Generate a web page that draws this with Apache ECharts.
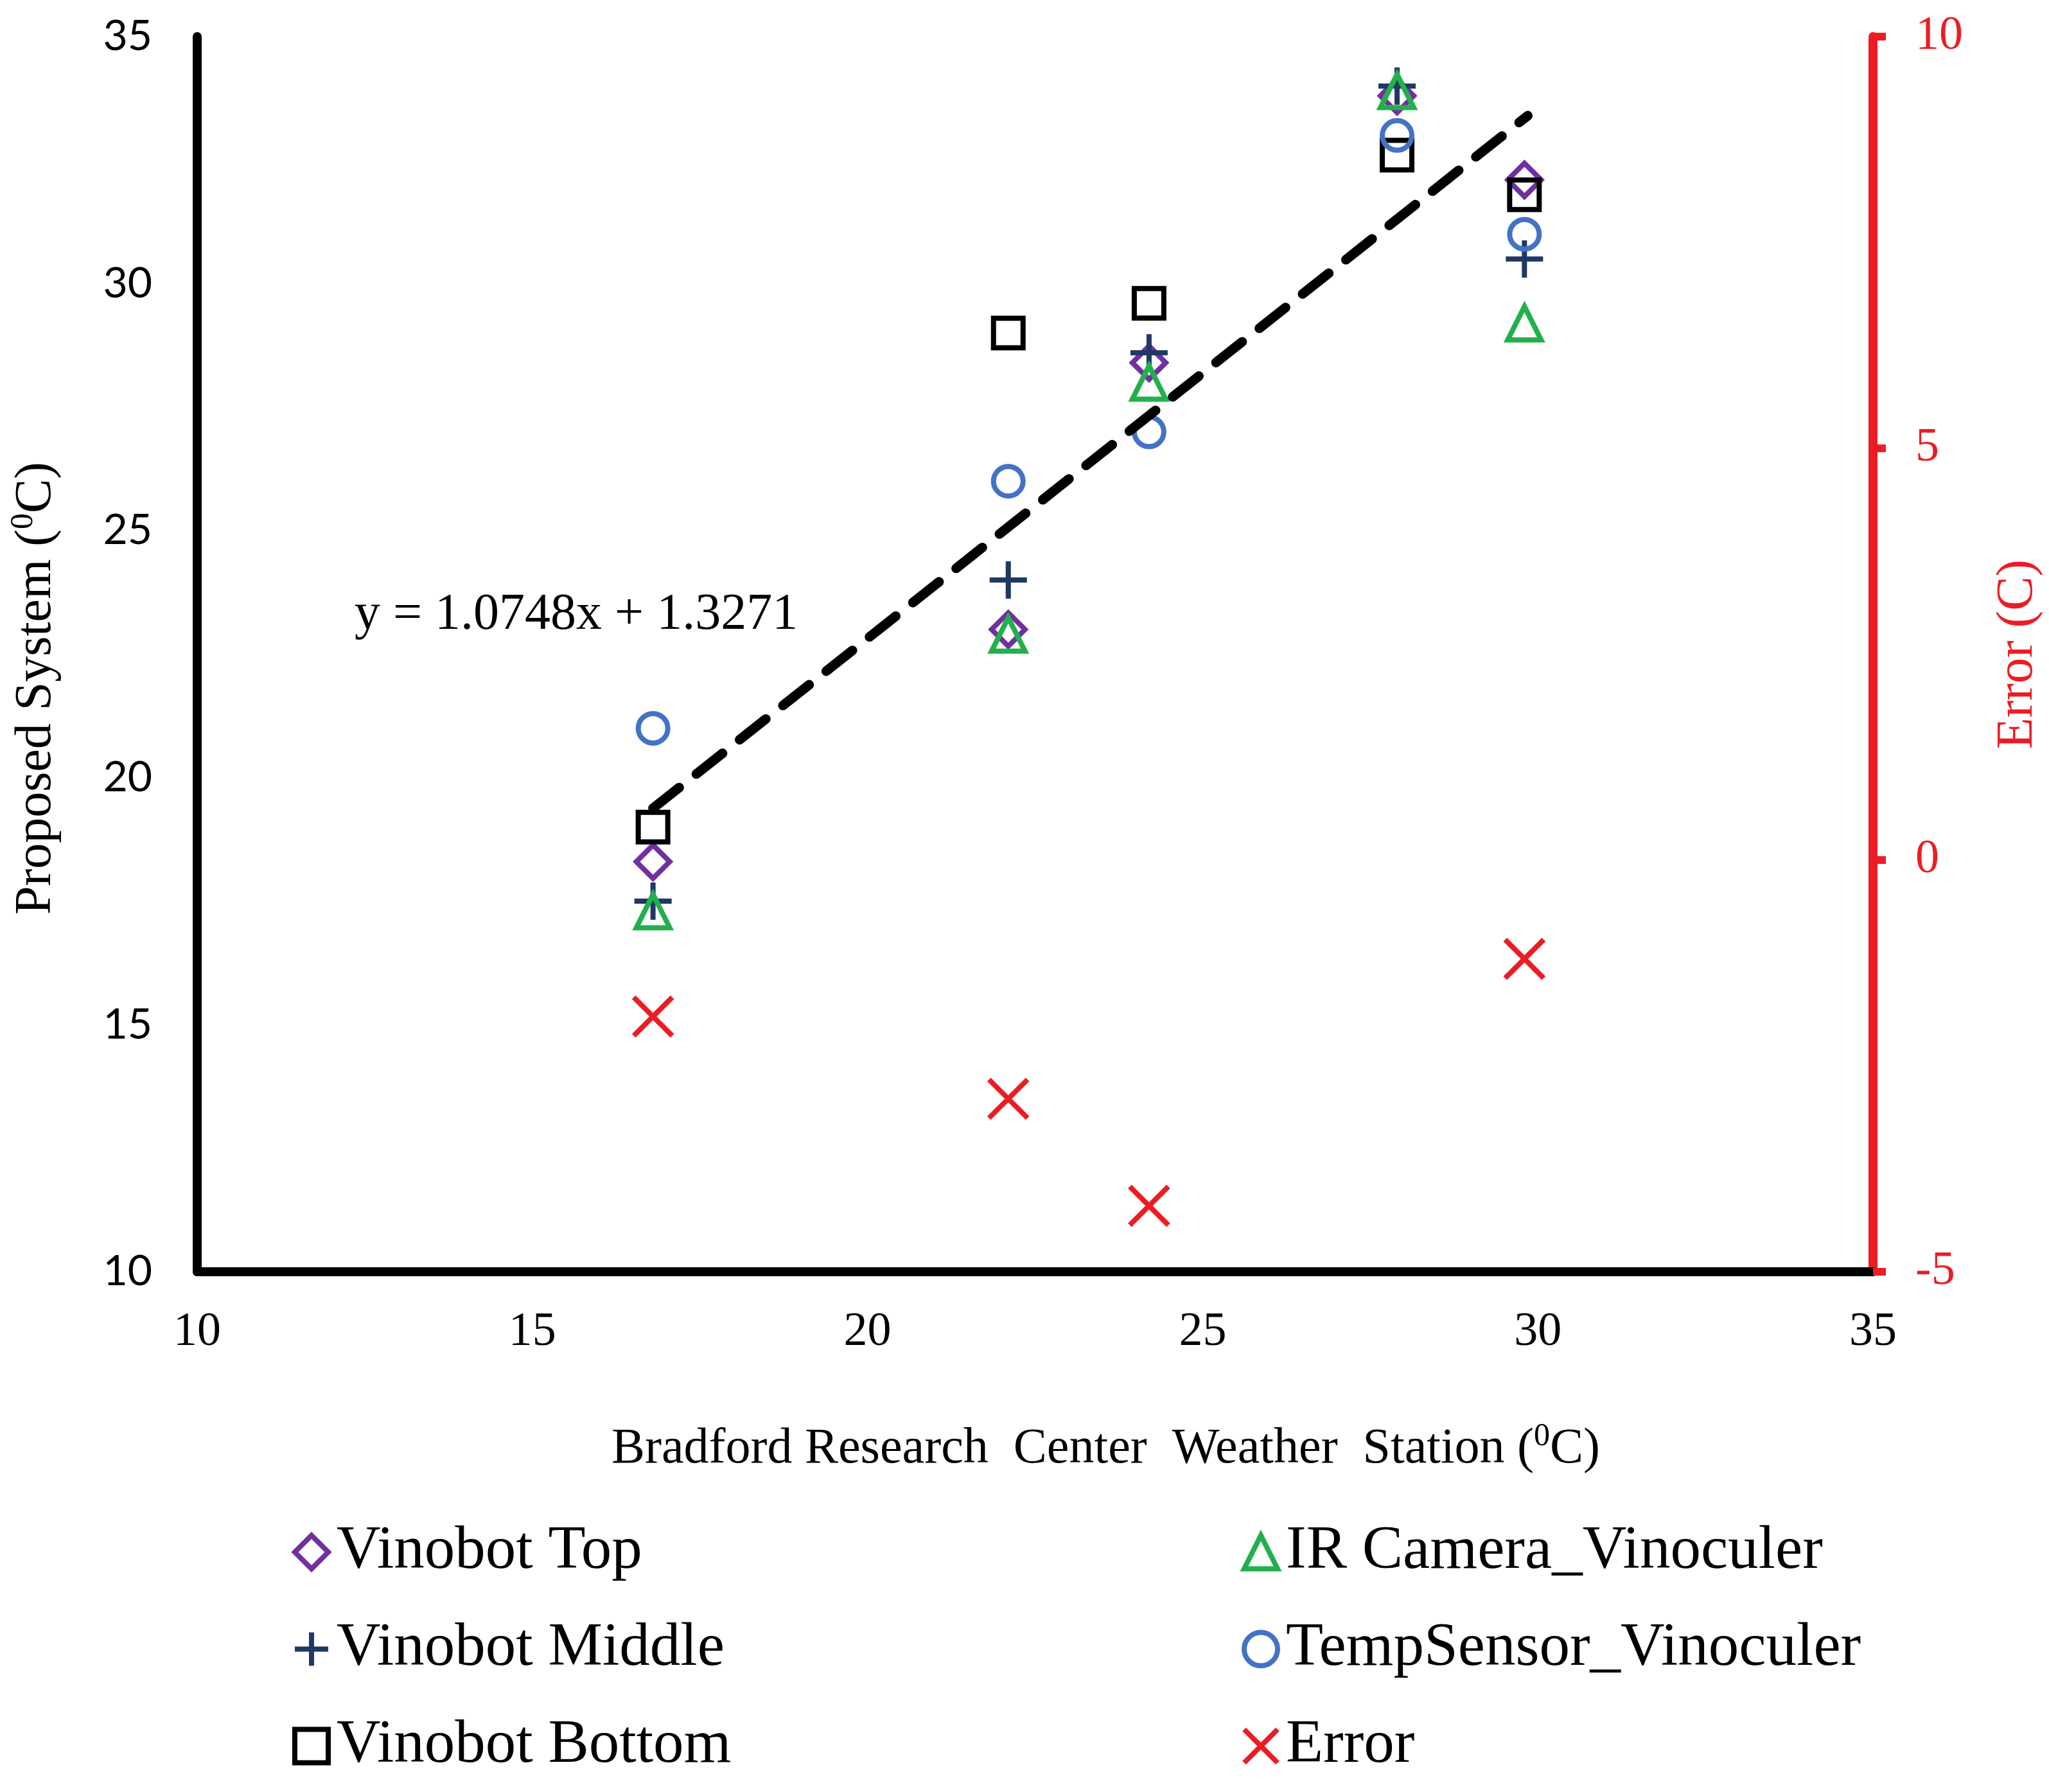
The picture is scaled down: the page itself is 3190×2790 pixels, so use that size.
<!DOCTYPE html>
<html>
<head>
<meta charset="utf-8">
<script src="https://cdn.jsdelivr.net/npm/echarts@6/dist/echarts.min.js"></script>
<style>
  html, body { margin: 0; padding: 0; background: #fff; }
  #chart { width: 3190px; height: 2790px; }
</style>
</head>
<body>
<div id="chart"></div>
<script>
// station readings (x) and the readings of each system (y)
const stationTemps = [16.8, 22.1, 24.2, 27.9, 29.8];
const vinobotTop = [18.3, 23.0, 28.4, 33.8, 32.1];
const vinobotMiddle = [17.5, 24.0, 28.6, 34.0, 30.5];
const vinobotBottom = [19.0, 29.0, 29.6, 32.6, 31.8];
const irCamera = [17.3, 22.9, 28.0, 33.9, 29.2];
const tempSensor = [21.0, 26.0, 27.0, 33.0, 31.0];
const errorVals = [-1.9, -2.9, -4.2, null, -1.2];

// trend line end points as drawn
const trendX = [16.8, 29.85];
const trendY = [19.38, 33.4];
const trendLabel = "y = 1.0748x + 1.3271";

const serif = '"Liberation Serif", "Times New Roman", serif';
const sans = 'Lato, "Open Sans", sans-serif';
const red = "#ED1C24";
const strokeW = 8;

const pair = (ys) => stationTemps.map((x, i) => [x, ys[i]]).filter((p) => p[1] != null);

const plusPath = "path://M0,10L20,10M10,0L10,20";
const crossPath = "path://M0,0L20,20M20,0L0,20";

function scatter(name, ys, symbol, size, color, yAxisIndex = 0) {
  return {
    name,
    type: "scatter",
    yAxisIndex,
    data: pair(ys),
    symbol,
    symbolSize: size,
    itemStyle: { color: "transparent", borderColor: color, borderWidth: strokeW, opacity: 1 },
    emphasis: { disabled: true },
    z: 3,
  };
}

const chart = echarts.init(document.getElementById("chart"));

const legendText = { fontFamily: serif, fontSize: 95, color: "#000", padding: [0, 0, 0, 8] };
const supStyle = { fontFamily: serif, fontSize: 50, color: "#000", verticalAlign: "top", lineHeight: 90 };

chart.setOption({
  animation: false,
  backgroundColor: "#fff",
  grid: { left: 307, right: 272, top: 57, bottom: 810 },
  xAxis: {
    type: "value",
    min: 10,
    max: 35,
    interval: 5,
    splitLine: { show: false },
    axisTick: { show: false },
    axisLine: { onZero: false, lineStyle: { color: "#000", width: 14 } },
    axisLabel: { margin: 58, fontFamily: serif, fontSize: 74, color: "#000" },
    name: "Bradford Research  Center  Weather  Station ({s|0}C)",
    nameLocation: "middle",
    nameGap: 232,
    nameTextStyle: {
      fontFamily: serif, fontSize: 78, color: "#000", padding: [0, 0, 0, 220],
      rich: { s: supStyle },
    },
  },
  yAxis: [
    {
      type: "value",
      min: 10,
      max: 35,
      interval: 5,
      splitLine: { show: false },
      axisTick: { show: false },
      axisLine: { onZero: false, lineStyle: { color: "#000", width: 14 } },
      axisLabel: { margin: 70, fontFamily: sans, fontSize: 66, color: "#000" },
      name: "Proposed System ({s|0}C)",
      nameLocation: "middle",
      nameRotate: 90,
      nameGap: 205,
      nameTextStyle: {
        fontFamily: serif, fontSize: 80, color: "#000", padding: [0, 106, 0, 0],
        rich: { s: supStyle },
      },
    },
    {
      type: "value",
      position: "right",
      min: -5,
      max: 10,
      interval: 5,
      splitLine: { show: false },
      axisTick: { show: true, inside: false, length: 20, lineStyle: { color: red, width: 12 } },
      axisLine: { show: true, onZero: false, lineStyle: { color: red, width: 14 } },
      axisLabel: { margin: 66, fontFamily: serif, fontSize: 74, color: red },
      name: "Error (C)",
      nameLocation: "middle",
      nameRotate: 90,
      nameGap: 186,
      nameTextStyle: { fontFamily: serif, fontSize: 80, color: red },
    },
  ],
  legend: [
    {
      orient: "vertical",
      left: 455,
      top: 2369,
      padding: 0,
      itemWidth: 52,
      itemHeight: 52,
      itemGap: 56,
      selectedMode: false,
      itemStyle: { borderWidth: strokeW, opacity: 1 },
      textStyle: legendText,
      data: ["Vinobot Top", "Vinobot Middle", "Vinobot Bottom"],
    },
    {
      orient: "vertical",
      left: 1933,
      top: 2369,
      padding: 0,
      itemWidth: 52,
      itemHeight: 52,
      itemGap: 56,
      selectedMode: false,
      itemStyle: { borderWidth: strokeW, opacity: 1 },
      textStyle: legendText,
      data: ["IR Camera_Vinoculer", "TempSensor_Vinoculer", "Error"],
    },
  ],
  graphic: [
    {
      type: "text",
      left: 552,
      top: 918,
      style: { text: trendLabel, font: `80px ${serif}`, fill: "#000" },
    },
  ],
  series: [
    scatter("Vinobot Top", vinobotTop, "diamond", 52, "#7030A0"),
    scatter("Vinobot Middle", vinobotMiddle, plusPath, 58, "#1F3864"),
    scatter("Vinobot Bottom", vinobotBottom, "rect", 46, "#000"),
    scatter("IR Camera_Vinoculer", irCamera, "triangle", 52, "#22B04C"),
    scatter("TempSensor_Vinoculer", tempSensor, "circle", 46, "#4472C4"),
    scatter("Error", errorVals, crossPath, 60, red, 1),
    {
      name: "trend",
      type: "line",
      data: trendX.map((x, i) => [x, trendY[i]]),
      showSymbol: false,
      symbol: "none",
      lineStyle: { color: "#000", width: 15, type: [52, 34], cap: "round" },
      emphasis: { disabled: true },
      z: 5,
    },
  ],
});
</script>
</body>
</html>
